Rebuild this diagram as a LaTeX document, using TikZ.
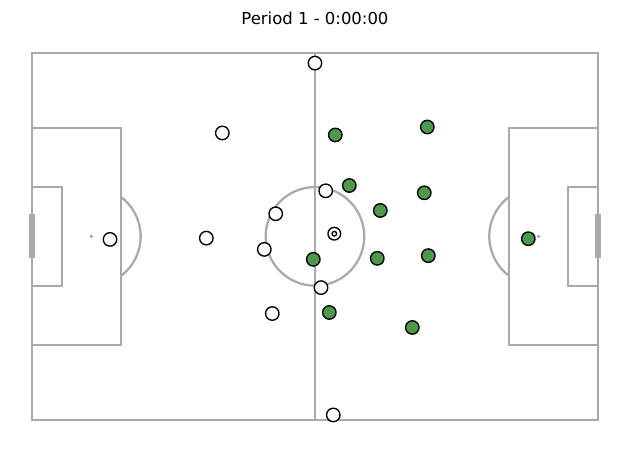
\documentclass[tikz,border=0pt]{standalone}
\usepackage{fontspec}
\setmainfont{DejaVu Sans}
\definecolor{pitchline}{RGB}{170,170,170}
\definecolor{awaygreen}{RGB}{76,153,76}

\begin{document}
\begin{tikzpicture}[x=1mm,y=1mm,
    line/.style={draw=pitchline,line width=1.2pt},
    spot/.style={circle,fill=pitchline,inner sep=0pt,minimum size=0.7mm},
    home/.style={circle,draw=black,fill=white,line width=0.72pt,minimum size=2.5mm,inner sep=0pt},
    away/.style={home,fill=awaygreen},
    ball/.style={circle,draw=black,fill=white,line width=0.72pt,minimum size=2.35mm,inner sep=0pt}]
    \useasboundingbox (-5.94,-5.79) rectangle (110.95,77.86);

    % pitch
    \draw[line] (0,0) rectangle (105,68);
    \draw[line] (52.5,0) -- (52.5,68);
    \draw[line] (52.5,34) circle (9.15);
    \draw[line] (0,13.84) rectangle (16.5,54.16);
    \draw[line] (105,13.84) rectangle (88.5,54.16);
    \draw[line] (0,24.84) rectangle (5.5,43.16);
    \draw[line] (105,24.84) rectangle (99.5,43.16);
    \draw[line] (16.5,26.68) arc (-53.13:53.13:9.15);
    \draw[line] (88.5,41.32) arc (126.87:233.13:9.15);
    \draw[pitchline,line width=2.9pt] (0,29.9) -- (0,38.1);
    \draw[pitchline,line width=2.9pt] (105,29.9) -- (105,38.1);
    \node[spot] (lspot) at (11,34) {};
    \node[spot] (rspot) at (94,34) {};
    \node[spot,minimum size=0.45mm] (kickoff) at (52.5,34) {};

    % home side
    \node[home] (home1) at (52.50,66.15) {};
    \node[home] (home2) at (35.31,53.19) {};
    \node[home] (home3) at (14.47,33.44) {};
    \node[home] (home4) at (32.34,33.68) {};
    \node[home] (home5) at (45.21,38.20) {};
    \node[home] (home6) at (43.10,31.59) {};
    \node[home] (home7) at (54.49,42.46) {};
    \node[home] (home8) at (53.62,24.50) {};
    \node[home] (home9) at (44.58,19.69) {};
    \node[home] (home10) at (55.90,0.87) {};

    % away side
    \node[away] (away1) at (56.27,52.82) {};
    \node[away] (away2) at (73.34,54.30) {};
    \node[away] (away3) at (58.87,43.44) {};
    \node[away] (away4) at (72.78,42.09) {};
    \node[away] (away5) at (64.62,38.81) {};
    \node[away] (away6) at (52.19,29.74) {};
    \node[away] (away7) at (64.06,29.93) {};
    \node[away] (away8) at (73.53,30.43) {};
    \node[away] (away9) at (55.16,19.88) {};
    \node[away] (away10) at (70.56,17.10) {};
    \node[away] (away11) at (92.08,33.57) {};

    % ball
    \node[ball] (ball) at (56.09,34.50) {};
    \node[ball,minimum size=0.85mm] (ballcore) at (ball.center) {};

    \node (title) at (52.5,74.53) {\fontsize{8.7}{10}\selectfont Period 1 - 0:00:00};
\end{tikzpicture}
\end{document}
